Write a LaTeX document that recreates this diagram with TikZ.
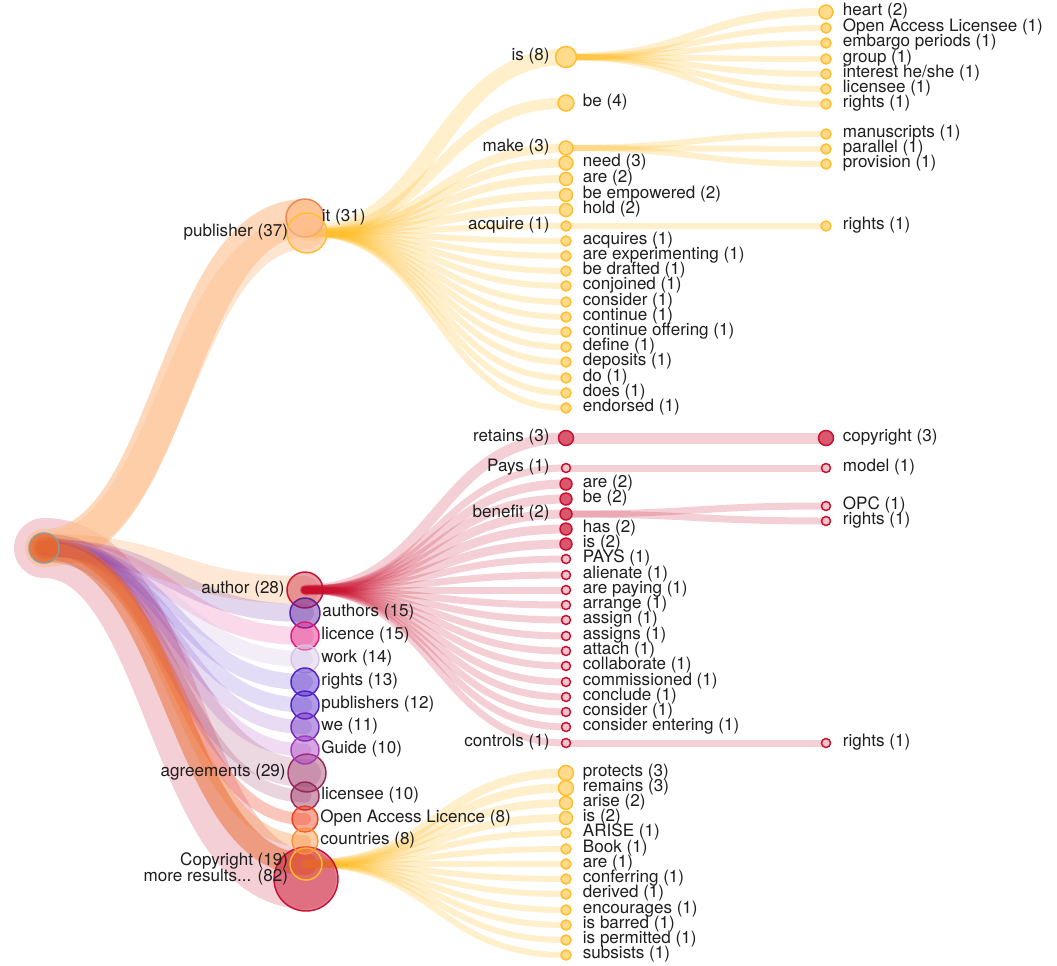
\documentclass[tikz,border=0pt]{standalone}
\usepackage{fontspec}
\setmainfont{TeX Gyre Heros}
\usetikzlibrary{positioning}

\definecolor{wtPeach}{RGB}{253,190,140}
\definecolor{wtOrange}{RGB}{232,105,45}
\definecolor{wtGold}{RGB}{255,190,45}
\definecolor{wtCrimson}{RGB}{200,16,46}
\definecolor{wtIndigo}{RGB}{90,30,160}
\definecolor{wtMagenta}{RGB}{225,25,125}
\definecolor{wtLavender}{RGB}{215,195,230}
\definecolor{wtViolet}{RGB}{80,35,200}
\definecolor{wtPurple}{RGB}{110,40,190}
\definecolor{wtOrchid}{RGB}{165,60,190}
\definecolor{wtMauve}{RGB}{150,40,90}
\definecolor{wtRed}{RGB}{240,65,30}
\definecolor{wtTan}{RGB}{250,145,60}
\definecolor{wtGray}{RGB}{150,150,150}
\definecolor{wtText}{RGB}{30,30,30}

\pgfdeclarelayer{bg}
\pgfsetlayers{bg,main}

\tikzset{
  band/.style={line cap=round, line width=#1*0.75pt},
  bub/.style={circle, inner sep=0pt, minimum size=#1*1.5pt, line width=1.1pt},
  word/.style={font=\fontsize{12.8}{13}\selectfont, text=wtText, inner sep=0.5pt,
    text height=8pt, text depth=2.5pt},
}

\begin{document}
\begin{tikzpicture}[x=0.75pt, y=-0.75pt]
    \useasboundingbox (0,0) rectangle (1057,965);

    \node[bub=15, draw=wtGray, fill=wtOrange, fill opacity=0.7] (root) at (44,548) {};

    % first column
    \node[bub=19, draw=wtOrange!80, fill=wtPeach, fill opacity=0.8] (pubA) at (305,218) {};
    \node[bub=20, draw=wtGold, fill=wtPeach, fill opacity=0.6] (pubB) at (307,233) {};
    \node[word, left=-2pt of pubB] (pubB-t) {publisher (37)};
    \node[word, anchor=west] (pubA-t) at (321,218) {it (31)};

    \node[bub=18, draw=wtCrimson, fill=wtCrimson, fill opacity=0.4] (author) at (305,590) {};
    \node[word, left=0.5pt of author] (author-t) {author (28)};
    \node[bub=19, draw=wtMauve, fill=wtMauve, fill opacity=0.4] (agree) at (307,773) {};
    \node[word, left=0.5pt of agree] (agree-t) {agreements (29)};
    \node[bub=32, draw=wtCrimson, fill=wtCrimson, fill opacity=0.5] (more) at (306,879) {};
    \node[bub=16, draw=wtGold, fill=wtOrange, fill opacity=0.4] (cpy) at (306,864) {};
    \node[word, anchor=east] (cpy-t) at (289,862) {Copyright (19)};
    \node[word, anchor=east] (more-t) at (289,878) {more results... (82)};

    \foreach \n/\y/\r/\c/\t in {
        authors/613/15/wtIndigo/{authors (15)},
        licence/636/14/wtMagenta/{licence (15)},
        work/659/14/wtLavender/{work (14)},
        rights/682/14/wtViolet/{rights (13)},
        publishers/705/14/wtViolet/{publishers (12)},
        we/727/14/wtPurple/{we (11)},
        guide/750/14/wtOrchid/{Guide (10)},
        licensee/796/14/wtMauve/{licensee (10)},
        oal/819/13/wtRed/{Open Access Licence (8)},
        countries/841/13/wtTan/{countries (8)}}{
      \node[bub=\r, draw=\c, fill=\c, fill opacity=0.45] (\n) at (305,\y) {};
      \node[word, right=0.5pt of \n] (\n-t) {\t};
    }

    \begin{pgfonlayer}{bg}
    \draw[band=60, draw=wtCrimson, draw opacity=0.2] (root.center) .. controls +(130,0) and +(-130,0) .. (more.center);
    \foreach \n/\w/\c/\o in {pubB/32/wtPeach/0.4, pubA/38/wtPeach/0.6, author/28/wtTan/0.22,
        authors/18/wtIndigo/0.18, licence/18/wtMagenta/0.16, work/16/wtLavender/0.3,
        rights/16/wtViolet/0.16, publishers/15/wtViolet/0.16, we/14/wtPurple/0.16,
        guide/13/wtOrchid/0.18, agree/28/wtMauve/0.18, licensee/13/wtMauve/0.2,
        oal/12/wtRed/0.3, countries/12/wtTan/0.35, cpy/22/wtOrange/0.5}
      \draw[band=\w, draw=\c, draw opacity=\o] (root.center) .. controls +(130,0) and +(-130,0) .. (\n.center);
    \end{pgfonlayer}

    % words after "it"
    \foreach \n/\y/\r/\w/\t in {isN/57/10.5/16/{is (8)}, make/148/7/9/{make (3)}, acq/226/5/6/{acquire (1)}}{
      \node[bub=\r, draw=wtGold, fill=wtGold!55] (\n) at (566,\y) {};
      \node[word, anchor=east] (\n-t) at (550.5,\y) {\t};
      \begin{pgfonlayer}{bg}
        \draw[band=\w, draw=wtGold, draw opacity=0.25] (pubB.center) .. controls +(130,0) and +(-130,0) .. (\n.center);
      \end{pgfonlayer}
    }
    \foreach \y/\r/\w/\t [count=\i] in {
        103/8/11/{be (4)}, 163/7/9/{need (3)}, 179/6.5/8/{are (2)},
        195/6.5/8/{be empowered (2)}, 210/6.5/8/{hold (2)}, 241/5/6/{acquires (1)},
        256/5/6/{are experimenting (1)}, 271/5/6/{be drafted (1)}, 286/5/6/{conjoined (1)},
        302/5/6/{consider (1)}, 317/5/6/{continue (1)}, 332/5/6/{continue offering (1)},
        347/5/6/{define (1)}, 362/5/6/{deposits (1)}, 378/5/6/{do (1)},
        393/5/6/{does (1)}, 408/5/6/{endorsed (1)}}{
      \node[bub=\r, draw=wtGold, fill=wtGold!55] (it\i) at (566,\y) {};
      \node[word, anchor=west] (it\i-t) at (582,\y) {\t};
      \begin{pgfonlayer}{bg}
        \draw[band=\w, draw=wtGold, draw opacity=0.25] (pubB.center) .. controls +(130,0) and +(-130,0) .. (it\i.center);
      \end{pgfonlayer}
    }
    \foreach \p/\y/\r/\w/\t [count=\i] in {
        isN/12/7/8/{heart (2)}, isN/28/5/6/{Open Access Licensee (1)},
        isN/43/5/6/{embargo periods (1)}, isN/59/5/6/{group (1)},
        isN/74/5/6/{interest he/she (1)}, isN/89/5/6/{licensee (1)},
        isN/104/5/6/{rights (1)}, make/134/5/6/{manuscripts (1)},
        make/149/5/6/{parallel (1)}, make/164/5/6/{provision (1)},
        acq/226/5/6/{rights (1)}}{
      \node[bub=\r, draw=wtGold, fill=wtGold!55] (itx\i) at (826,\y) {};
      \node[word, anchor=west] (itx\i-t) at (842,\y) {\t};
      \begin{pgfonlayer}{bg}
        \draw[band=\w, draw=wtGold, draw opacity=0.25] (\p.center) .. controls +(130,0) and +(-130,0) .. (itx\i.center);
      \end{pgfonlayer}
    }

    % words after "author"
    \foreach \n/\y/\r/\w/\f/\t in {retains/438/7.5/11/70/{retains (3)}, pays/468/4.5/7/25/{Pays (1)},
        benefit/514/6/9/70/{benefit (2)}, controls/743/4.5/7/25/{controls (1)}}{
      \node[bub=\r, draw=wtCrimson, fill=wtCrimson!\f] (\n) at (566,\y) {};
      \node[word, anchor=east] (\n-t) at (550.5,\y) {\t};
      \begin{pgfonlayer}{bg}
        \draw[band=\w, draw=wtCrimson, draw opacity=0.2] (author.center) .. controls +(130,0) and +(-130,0) .. (\n.center);
      \end{pgfonlayer}
    }
    \foreach \y/\r/\w/\f/\t [count=\i] in {
        484/6/9/70/{are (2)}, 499/6/9/70/{be (2)}, 529/6/9/70/{has (2)}, 544/6/9/70/{is (2)},
        559/4.5/7/25/{PAYS (1)}, 575/4.5/7/25/{alienate (1)}, 590/4.5/7/25/{are paying (1)},
        605/4.5/7/25/{arrange (1)}, 620/4.5/7/25/{assign (1)}, 636/4.5/7/25/{assigns (1)},
        651/4.5/7/25/{attach (1)}, 666/4.5/7/25/{collaborate (1)}, 682/4.5/7/25/{commissioned (1)},
        697/4.5/7/25/{conclude (1)}, 712/4.5/7/25/{consider (1)}, 727/4.5/7/25/{consider entering (1)}}{
      \node[bub=\r, draw=wtCrimson, fill=wtCrimson!\f] (au\i) at (566,\y) {};
      \node[word, anchor=west] (au\i-t) at (582,\y) {\t};
      \begin{pgfonlayer}{bg}
        \draw[band=\w, draw=wtCrimson, draw opacity=0.2] (author.center) .. controls +(130,0) and +(-130,0) .. (au\i.center);
      \end{pgfonlayer}
    }
    \foreach \p/\y/\r/\w/\f/\t [count=\i] in {
        retains/438/7.5/11/70/{copyright (3)}, pays/468/4.5/7/25/{model (1)},
        benefit/506/4.5/7/25/{OPC (1)}, benefit/521/4.5/7/25/{rights (1)},
        controls/743/4.5/7/25/{rights (1)}}{
      \node[bub=\r, draw=wtCrimson, fill=wtCrimson!\f] (aux\i) at (826,\y) {};
      \node[word, anchor=west] (aux\i-t) at (842,\y) {\t};
      \begin{pgfonlayer}{bg}
        \draw[band=\w, draw=wtCrimson, draw opacity=0.2] (\p.center) .. controls +(130,0) and +(-130,0) .. (aux\i.center);
      \end{pgfonlayer}
    }

    % words after "Copyright"
    \foreach \y/\r/\w/\t [count=\i] in {
        773/7.5/9/{protects (3)}, 788/7.5/9/{remains (3)}, 803/6.5/8/{arise (2)},
        818/6.5/8/{is (2)}, 833/5/6/{ARISE (1)}, 849/5/6/{Book (1)}, 864/5/6/{are (1)},
        879/5/6/{conferring (1)}, 894/5/6/{derived (1)}, 910/5/6/{encourages (1)},
        925/5/6/{is barred (1)}, 940/5/6/{is permitted (1)}, 955/5/6/{subsists (1)}}{
      \node[bub=\r, draw=wtGold, fill=wtGold!55] (cp\i) at (566,\y) {};
      \node[word, anchor=west] (cp\i-t) at (582,\y) {\t};
      \begin{pgfonlayer}{bg}
        \draw[band=\w, draw=wtGold, draw opacity=0.25] (cpy.center) .. controls +(130,0) and +(-130,0) .. (cp\i.center);
      \end{pgfonlayer}
    }
\end{tikzpicture}
\end{document}
